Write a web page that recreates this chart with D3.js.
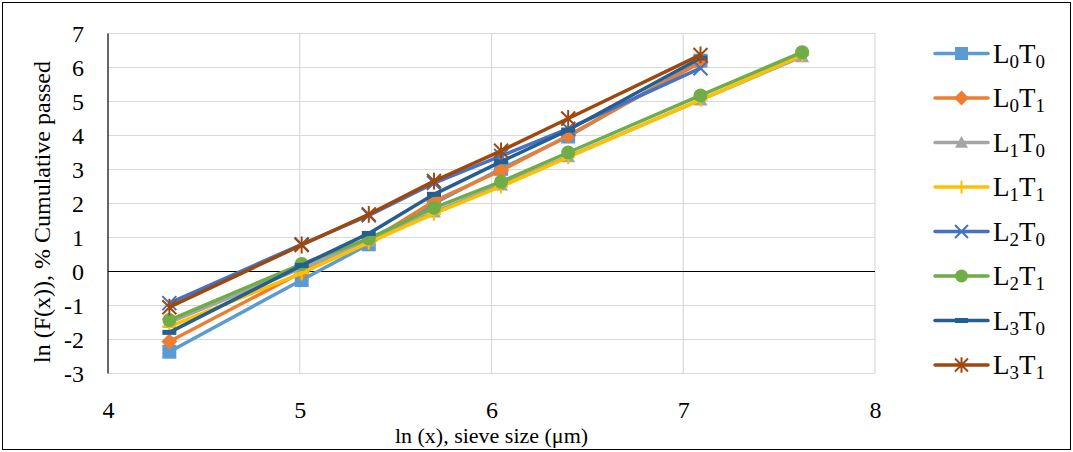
<!DOCTYPE html>
<html>
<head>
<meta charset="utf-8">
<script src="https://cdn.jsdelivr.net/npm/d3@7"></script>
<style>
  body { margin: 0; background: #fff; }
  svg, svg text { font-family: "Liberation Serif", "Times New Roman", serif; }
  svg { display: block; }
</style>
</head>
<body>
<div id="chart"></div>
<script>
// ln of sieve sizes (x values)
const lnSieve = [4.32, 5.01, 5.36, 5.70, 6.05, 6.40, 7.09, 7.62];

// ln(F(x)) values, one array per series
const l0t0 = [-2.36, -0.25, 0.80, 2.00, 3.02, 3.97, 6.20];
const l0t1 = [-2.06, -0.02, 0.88, 2.07, 2.97, 4.00, 6.15];
const l1t0 = [-1.50, 0.10, 0.90, 1.75, 2.55, 3.38, 5.05, 6.32];
const l1t1 = [-1.62, -0.05, 0.85, 1.70, 2.50, 3.36, 5.05, 6.36];
const l2t0 = [-0.93, 0.80, 1.65, 2.60, 3.40, 4.20, 5.98];
const l2t1 = [-1.43, 0.22, 0.97, 1.87, 2.64, 3.50, 5.18, 6.45];
const l3t0 = [-1.79, 0.18, 1.12, 2.27, 3.23, 4.16, 6.28];
const l3t1 = [-1.05, 0.78, 1.68, 2.66, 3.55, 4.50, 6.37];

const seriesNames = ["L0T0", "L0T1", "L1T0", "L1T1", "L2T0", "L2T1", "L3T0", "L3T1"];
const seriesValues = [l0t0, l0t1, l1t0, l1t1, l2t0, l2t1, l3t0, l3t1];
const seriesColors = ["#5B9BD5", "#ED7D31", "#A5A5A5", "#FFC000", "#4472C4", "#70AD47", "#255E91", "#9E480E"];
const seriesMarkers = ["square", "diamond", "triangle", "plus", "cross", "circle", "dash", "star"];

const xTicks = [4, 5, 6, 7, 8];
const yTicks = [-3, -2, -1, 0, 1, 2, 3, 4, 5, 6, 7];

const width = 1073, height = 452;
const plot = { left: 108, right: 875, top: 33.5, bottom: 373.5 };

const svg = d3.select("#chart").append("svg")
  .attr("width", width)
  .attr("height", height);

// outer frame
svg.append("rect")
  .attr("x", 2.5).attr("y", 2.5)
  .attr("width", width - 5).attr("height", height - 5)
  .attr("fill", "#fff")
  .attr("stroke", "#000")
  .attr("stroke-width", 1);

const x = d3.scaleLinear().domain([4, 8]).range([plot.left, plot.right]);
const y = d3.scaleLinear().domain([-3, 7]).range([plot.bottom, plot.top]);

// gridlines
const grid = svg.append("g").attr("stroke", "#d9d9d9").attr("stroke-width", 1.2);
grid.selectAll("line.h")
  .data(yTicks.filter(d => d !== 0))
  .join("line")
  .attr("class", "h")
  .attr("x1", plot.left).attr("x2", plot.right)
  .attr("y1", d => y(d)).attr("y2", d => y(d));
grid.selectAll("line.v")
  .data(xTicks.filter(d => d !== 4))
  .join("line")
  .attr("class", "v")
  .attr("x1", d => x(d)).attr("x2", d => x(d))
  .attr("y1", plot.top).attr("y2", plot.bottom);

// axis lines: vertical at x=4 and horizontal at y=0
svg.append("line")
  .attr("x1", plot.left).attr("x2", plot.left)
  .attr("y1", plot.top).attr("y2", plot.bottom)
  .attr("stroke", "#000").attr("stroke-width", 1.2);
svg.append("line")
  .attr("x1", plot.left).attr("x2", plot.right)
  .attr("y1", y(0)).attr("y2", y(0))
  .attr("stroke", "#000").attr("stroke-width", 1.2);

// tick labels (plain hyphen for negatives, like the original)
const yAxis = svg.append("g")
  .attr("transform", `translate(${plot.left},0)`)
  .call(d3.axisLeft(y).tickValues(yTicks).tickSize(0).tickPadding(24).tickFormat(d => String(d)));
yAxis.attr("font-family", null).attr("font-size", null);
yAxis.select(".domain").remove();
yAxis.selectAll("text").attr("font-size", 24).attr("fill", "#000");

const xAxis = svg.append("g")
  .attr("transform", `translate(0,${plot.bottom})`)
  .call(d3.axisBottom(x).tickValues(xTicks).tickSize(0).tickPadding(27).tickFormat(d => String(d)));
xAxis.attr("font-family", null).attr("font-size", null);
xAxis.select(".domain").remove();
xAxis.selectAll("text").attr("font-size", 24).attr("fill", "#000");

// axis titles
svg.append("text")
  .attr("x", (plot.left + plot.right) / 2)
  .attr("y", 443)
  .attr("text-anchor", "middle")
  .attr("font-size", 22)
  .text("ln (x), sieve size (μm)");

svg.append("text")
  .attr("transform", "translate(50,212) rotate(-90)")
  .attr("text-anchor", "middle")
  .attr("font-size", 24)
  .text("ln (F(x)), % Cumulative passed");

// marker drawing
function drawMarker(g, type, color, s) {
  switch (type) {
    case "square":
      g.append("rect").attr("x", -s).attr("y", -s).attr("width", 2 * s).attr("height", 2 * s).attr("fill", color);
      break;
    case "diamond":
      g.append("path").attr("d", `M0,${-s * 1.15}L${s * 1.15},0L0,${s * 1.15}L${-s * 1.15},0Z`).attr("fill", color);
      break;
    case "triangle":
      g.append("path").attr("d", `M0,${-s}L${s},${s * 0.8}L${-s},${s * 0.8}Z`).attr("fill", color);
      break;
    case "circle":
      g.append("circle").attr("r", s).attr("fill", color);
      break;
    case "plus":
      g.append("path").attr("d", `M${-s},0H${s}M0,${-s}V${s}`).attr("stroke", color).attr("stroke-width", 2).attr("fill", "none");
      break;
    case "cross":
      g.append("path").attr("d", `M${-s},${-s}L${s},${s}M${-s},${s}L${s},${-s}`).attr("stroke", color).attr("stroke-width", 2).attr("fill", "none");
      break;
    case "dash":
      g.append("path").attr("d", `M${-s},0H${s}`).attr("stroke", color).attr("stroke-width", 5).attr("fill", "none");
      break;
    case "star":
      g.append("path").attr("d", `M${-s},${-s}L${s},${s}M${-s},${s}L${s},${-s}M0,${-s * 1.2}V${s * 1.2}`).attr("stroke", color).attr("stroke-width", 2).attr("fill", "none");
      break;
  }
}

const line = d3.line().x(d => x(d[0])).y(d => y(d[1]));

seriesValues.forEach((vals, i) => {
  const pts = vals.map((v, j) => [lnSieve[j], v]);
  const g = svg.append("g").attr("class", "series");
  g.append("path")
    .datum(pts)
    .attr("d", line)
    .attr("fill", "none")
    .attr("stroke", seriesColors[i])
    .attr("stroke-width", 3.5)
    .attr("stroke-linejoin", "round");
  g.selectAll("g.pt")
    .data(pts)
    .join("g")
    .attr("class", "pt")
    .attr("transform", d => `translate(${x(d[0])},${y(d[1])})`)
    .each(function () { drawMarker(d3.select(this), seriesMarkers[i], seriesColors[i], 7); });
});

// legend
const legend = svg.append("g").attr("transform", "translate(935,53.5)");
seriesNames.forEach((name, i) => {
  const row = legend.append("g").attr("transform", `translate(0,${i * 44.5})`);
  row.append("line")
    .attr("x1", 0).attr("x2", 53)
    .attr("stroke", seriesColors[i]).attr("stroke-width", 3.5)
    .attr("stroke-linecap", "round");
  const m = row.append("g").attr("transform", "translate(26.5,0)");
  drawMarker(m, seriesMarkers[i], seriesColors[i], 6.5);
  const t = row.append("text").attr("x", 58).attr("y", 9).attr("font-size", 27);
  t.append("tspan").text(name[0]);
  t.append("tspan").attr("font-size", 19).attr("dy", 5).text(name[1]);
  t.append("tspan").attr("dy", -5).text(name[2]);
  t.append("tspan").attr("font-size", 19).attr("dy", 5).text(name[3]);
});
</script>
</body>
</html>
